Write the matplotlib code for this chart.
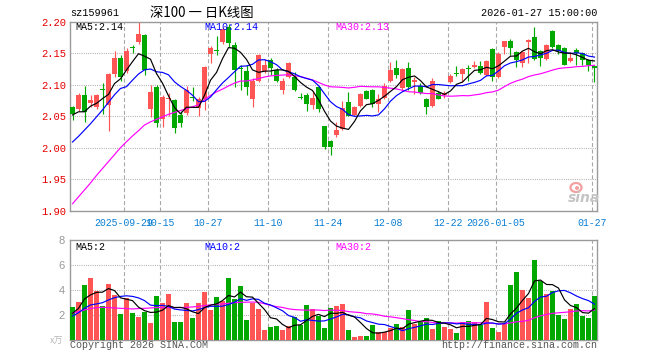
import numpy as np
import pandas as pd
import matplotlib
matplotlib.use("Agg")
import matplotlib.pyplot as plt
from matplotlib.patches import Ellipse

# ---------------- data ----------------
tick_idx = [9, 15, 23, 33, 43, 53, 63, 71, 87]
tick_labels = ['2025-09-29', '10-15', '10-27', '11-10', '11-24',
               '12-08', '12-22', '2026-01-05', '01-27']

opens = [2.064, 2.061, 2.083, 2.071, 2.065, 2.0925, 2.068, 2.117, 2.143, 2.121,
         2.158, 2.167, 2.179, 2.061, 2.096, 2.045, 2.077, 2.075, 2.052, 2.055,
         2.081, 2.063, 2.077, 2.149, 2.154, 2.167, 2.191, 2.163, 2.127, 2.121,
         2.078, 2.106, 2.121, 2.140, 2.123, 2.092, 2.113, 2.113, 2.081, 2.083,
         2.068, 2.096, 2.034, 2.011, 2.0197, 2.030, 2.073, 2.0523, 2.066, 2.0907,
         2.092, 2.069, 2.079, 2.106, 2.126, 2.095, 2.126, 2.104, 2.0974, 2.078,
         2.0663, 2.087, 2.083, 2.105, 2.1185, 2.1166, 2.1265, 2.1285, 2.130, 2.1155,
         2.157, 2.112, 2.1606, 2.169, 2.152, 2.134, 2.168, 2.175, 2.153, 2.1404,
         2.1855, 2.163, 2.158, 2.138, 2.1554, 2.150, 2.140, 2.1295]
highs = [2.066, 2.087, 2.098, 2.083, 2.086, 2.102, 2.119, 2.153, 2.1466, 2.158,
         2.163, 2.200, 2.180, 2.100, 2.100, 2.083, 2.087, 2.077, 2.058, 2.098,
         2.096, 2.080, 2.129, 2.161, 2.177, 2.191, 2.196, 2.167, 2.131, 2.131,
         2.110, 2.149, 2.1415, 2.143, 2.126, 2.110, 2.136, 2.120, 2.087, 2.087,
         2.0896, 2.0974, 2.035, 2.012, 2.0404, 2.074, 2.0886, 2.0663, 2.087, 2.092,
         2.0938, 2.0845, 2.1026, 2.136, 2.139, 2.126, 2.136, 2.113, 2.1026, 2.079,
         2.110, 2.0896, 2.0896, 2.1166, 2.1295, 2.126, 2.132, 2.137, 2.137, 2.139,
         2.158, 2.152, 2.170, 2.1725, 2.153, 2.154, 2.1725, 2.192, 2.1544, 2.165,
         2.187, 2.1648, 2.160, 2.152, 2.158, 2.1518, 2.1415, 2.131]
lows = [2.044, 2.058, 2.041, 2.064, 2.062, 2.053, 2.026, 2.113, 2.106, 2.118,
        2.150, 2.165, 2.115, 2.048, 2.033, 2.033, 2.050, 2.024, 2.033, 2.052,
        2.074, 2.050, 2.060, 2.135, 2.147, 2.165, 2.160, 2.097, 2.092, 2.084,
        2.065, 2.104, 2.118, 2.1155, 2.105, 2.0855, 2.111, 2.0907, 2.077, 2.0585,
        2.061, 2.056, 1.998, 1.9886, 2.017, 2.028, 2.050, 2.050, 2.065, 2.0767,
        2.0648, 2.056, 2.0767, 2.1036, 2.111, 2.092, 2.092, 2.0845, 2.0845, 2.0534,
        2.0648, 2.0767, 2.0793, 2.1026, 2.1145, 2.105, 2.106, 2.127, 2.1166, 2.1145,
        2.106, 2.111, 2.149, 2.1477, 2.1285, 2.1285, 2.1337, 2.139, 2.1295, 2.139,
        2.158, 2.149, 2.131, 2.136, 2.131, 2.131, 2.1218, 2.105]
closes = [2.054, 2.083, 2.057, 2.075, 2.083, 2.0915, 2.117, 2.1425, 2.113, 2.153,
          2.1575, 2.180, 2.123, 2.089, 2.039, 2.081, 2.079, 2.031, 2.039, 2.092,
          2.0795, 2.078, 2.128, 2.158, 2.1535, 2.189, 2.166, 2.123, 2.1255, 2.097,
          2.106, 2.1466, 2.132, 2.127, 2.106, 2.106, 2.135, 2.092, 2.079, 2.069,
          2.079, 2.061, 2.0015, 2.0015, 2.0285, 2.0627, 2.051, 2.0648, 2.0855, 2.0777,
          2.070, 2.0777, 2.0974, 2.124, 2.1155, 2.125, 2.097, 2.108, 2.087, 2.065,
          2.1062, 2.0777, 2.087, 2.1145, 2.1175, 2.1244, 2.1255, 2.132, 2.119, 2.1373,
          2.113, 2.149, 2.169, 2.158, 2.139, 2.152, 2.171, 2.1415, 2.1425, 2.163,
          2.1596, 2.153, 2.132, 2.1425, 2.150, 2.139, 2.131, 2.126]
volumes = [2.69, 3.06, 4.41, 5.0, 3.96, 2.77, 4.49, 3.62, 2.10, 3.40,
           2.21, 1.89, 2.23, 1.38, 3.54, 2.98, 3.70, 1.46, 1.46, 2.98,
           1.78, 2.98, 3.86, 2.42, 3.46, 3.14, 4.97, 3.30, 4.34, 1.62,
           3.0, 2.5, 0.82, 1.06, 1.14, 0.82, 1.14, 1.86, 1.22, 2.82,
           2.5, 1.94, 0.98, 2.58, 2.74, 2.90, 0.82, 0.27, 0.35, 0.35,
           1.22, 0.66, 0.66, 0.98, 1.30, 1.06, 2.42, 1.30, 1.54, 1.78,
           0.90, 1.54, 1.06, 0.90, 0.59, 1.46, 1.54, 1.46, 1.22, 3.06,
           0.98, 0.66, 1.38, 4.41, 5.45, 4.02, 3.38, 6.41, 4.76, 3.70,
           3.94, 2.02, 1.70, 2.5, 2.90, 1.94, 1.78, 3.54]

# moving-average values at the start of the window (their windows reach
# back before the first visible day, read from the picture)
ma5_head = [2.052, 2.057, 2.057, 2.066]
ma10_head = [2.009, 2.018, 2.028, 2.038, 2.049, 2.060, 2.072, 2.084, 2.094]
ma30_head = [1.911, 1.922, 1.933, 1.944, 1.956, 1.967, 1.978, 1.989, 2.000, 2.0095,
             2.0186, 2.027, 2.036, 2.041, 2.045, 2.049, 2.053, 2.056, 2.059, 2.062,
             2.065, 2.068, 2.0767, 2.083, 2.0886, 2.093, 2.098, 2.1026, 2.1057]
vma5_head = [2.15, 2.55, 3.3, 3.62]
vma10_head = [1.94, 2.2, 2.55, 2.82, 2.9, 3.0, 3.22, 3.4, 3.5]
vma30_head = [2.18, 2.29, 2.42, 2.53, 2.61, 2.63, 2.61, 2.58, 2.55, 2.53,
              2.5, 2.53, 2.55, 2.58, 2.61, 2.61, 2.61, 2.61, 2.61, 2.63,
              2.66, 2.71, 2.77, 2.82, 2.87, 2.9, 2.95, 3.0, 3.03]

price_ticks = [1.90, 1.95, 2.00, 2.05, 2.10, 2.15, 2.20]
vol_ticks = [2, 4, 6, 8]

# ---------------- styling ----------------
RED = '#FF5555'
GREEN = '#00A800'
GRID = '#A8A8A8'
FRAME = '#9A9A9A'
MONO = 'Liberation Mono'
W, H = 660, 360


def moving(values, n, head):
    s = pd.Series(values).rolling(n).mean().to_numpy()
    s[:len(head)] = head
    return s


ma5 = moving(closes, 5, ma5_head)
ma10 = moving(closes, 10, ma10_head)
ma30 = moving(closes, 30, ma30_head)
vma5 = moving(volumes, 5, vma5_head)
vma10 = moving(volumes, 10, vma10_head)
vma30 = moving(volumes, 30, vma30_head)

n = len(closes)
x = np.arange(n)
o = np.array(opens); c = np.array(closes)
hi = np.array(highs); lo = np.array(lows)
cols = [RED if c[i] >= o[i] else GREEN for i in range(n)]

fig = plt.figure(figsize=(W / 100, H / 100), dpi=100)


def px_axes(l, t, r, b):
    return fig.add_axes([l / W, 1 - b / H, (r - l) / W, (b - t) / H])


def ftext(px, py, s, **kw):
    fig.text(px / W, 1 - py / H, s, **kw)


ax = px_axes(70, 21.7, 597, 210.7)
axv = px_axes(70, 240, 597, 340.3)

xl = (-0.4167, n - 1 + 0.4167)
grid_x = [i - 0.4 for i in tick_idx]

for a in (ax, axv):
    a.set_xlim(*xl)
    for sp in a.spines.values():
        sp.set_color(FRAME)
        sp.set_linewidth(1.0)
    for gx in grid_x:
        a.axvline(gx, color=GRID, lw=0.8, dashes=(3.6, 2.2), zorder=0.5)

# ---- price pane ----
ax.set_ylim(1.90, 2.20)
for v in price_ticks[1:-1]:
    ax.axhline(v, color=GRID, lw=0.8, dashes=(0.8, 1.2), zorder=0.5)

ax.vlines(x, lo, hi, colors=cols, lw=0.85, zorder=2)
body_lo = np.minimum(o, c)
body_h = np.maximum(np.abs(c - o), 0.0016)
ax.bar(x, body_h, bottom=body_lo, width=0.8, color=cols, linewidth=0, zorder=3)

ax.plot(x, ma30, color='#FF00FF', lw=0.85, zorder=4)
ax.plot(x, ma10, color='#0000FF', lw=0.85, zorder=5)
ax.plot(x, ma5, color='#000000', lw=0.85, zorder=6)

ax.set_yticks(price_ticks)
ax.set_yticklabels(['%.2f' % v for v in price_ticks])
ax.set_xticks(grid_x)
ax.set_xticklabels(tick_labels)
ax.tick_params(axis='y', length=0, pad=3, labelcolor='#E60000', labelsize=7.6)
ax.tick_params(axis='x', length=0, pad=5, labelcolor='#0A7FD2', labelsize=7.1)
for t in ax.get_yticklabels() + ax.get_xticklabels():
    t.set_fontfamily(MONO)

# ---- volume pane ----
axv.set_ylim(0, 8)
for v in vol_ticks[:-1]:
    axv.axhline(v, color=GRID, lw=0.8, dashes=(0.8, 1.2), zorder=0.5)
axv.bar(x, volumes, width=0.8, color=cols, linewidth=0, zorder=3)
axv.plot(x, vma30, color='#FF00FF', lw=0.85, zorder=4)
axv.plot(x, vma10, color='#0000FF', lw=0.85, zorder=5)
axv.plot(x, vma5, color='#000000', lw=0.85, zorder=6)
axv.set_xticks([])
axv.set_yticks(vol_ticks)
axv.set_yticklabels([str(v) for v in vol_ticks])
axv.tick_params(axis='y', length=0, pad=4, labelcolor='#999999', labelsize=8)
for t in axv.get_yticklabels():
    t.set_fontfamily('Liberation Sans')

# ---- texts ----
ftext(70, 13, 'sz159961', fontsize=7.3, family=MONO, va='center', ha='left', color='#000000')
ftext(150, 12.5, '深100 一 日K线图', fontsize=9.6, family=['Noto Sans CJK SC', 'DejaVu Sans'],
      va='center', ha='left', color='#000000')
ftext(597, 13, '2026-01-27 15:00:00', fontsize=7.3, family=MONO, va='center', ha='right', color='#000000')

ftext(75, 26.5, 'MA5:%.2f' % ma5[-1], fontsize=7.2, family=MONO, va='center', color='#000000')
ftext(204, 26.5, 'MA10:%.2f' % ma10[-1], fontsize=7.2, family=MONO, va='center', color='#0000FF')
ftext(335, 26.5, 'MA30:%.2f' % ma30[-1], fontsize=7.2, family=MONO, va='center', color='#FF00FF')

ftext(75, 246.5, 'MA5:%d' % int(vma5[-1]), fontsize=7.2, family=MONO, va='center', color='#000000')
ftext(204, 246.5, 'MA10:%d' % int(vma10[-1]), fontsize=7.2, family=MONO, va='center', color='#0000FF')
ftext(335, 246.5, 'MA30:%d' % int(vma30[-1]), fontsize=7.2, family=MONO, va='center', color='#FF00FF')

ftext(63, 341, 'x万', fontsize=6.5, family=['Noto Sans CJK SC', 'DejaVu Sans'], va='center',
      ha='right', color='#B8B8B8')
ftext(70, 345, 'Copyright 2026 SINA.COM', fontsize=7.2, family=MONO, va='center', ha='left',
      color='#555555')
ftext(597, 345, 'http://finance.sina.com.cn', fontsize=7.2, family=MONO, va='center', ha='right',
      color='#555555')

# sina watermark
ftext(584, 198, 'sina', fontsize=10, family='DejaVu Sans', style='italic', weight='bold',
      va='center', ha='center', color='#C4C4C4')
fig.add_artist(Ellipse((576 / W, 1 - 187.5 / H), 11 / W, 9 / H, transform=fig.transFigure,
                       facecolor='none', edgecolor='#F2A0A0', lw=1.6))
fig.add_artist(Ellipse((577 / W, 1 - 188 / H), 4 / W, 4 / H, transform=fig.transFigure,
                       facecolor='#F2A0A0', edgecolor='none'))

fig.savefig('out.png', dpi=100)
